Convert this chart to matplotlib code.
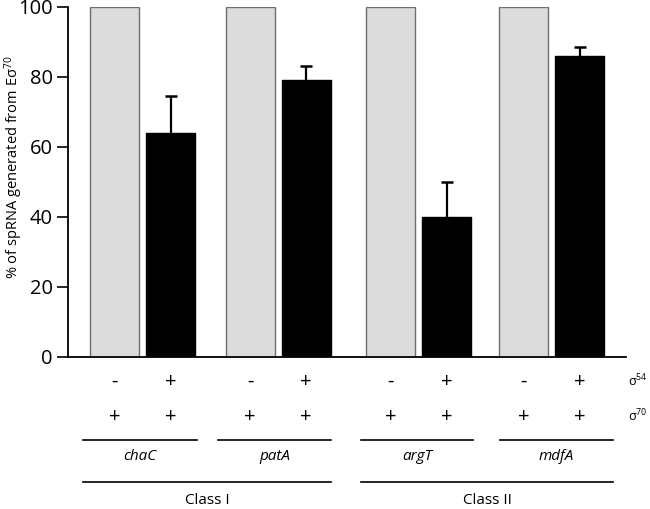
import matplotlib.pyplot as plt
import matplotlib.transforms as mtransforms
from matplotlib.lines import Line2D

plt.rcParams['font.family'] = ['Open Sans', 'DejaVu Sans']
plt.rcParams['mathtext.fontset'] = 'custom'
plt.rcParams['mathtext.rm'] = 'Open Sans'
plt.rcParams['mathtext.it'] = 'Open Sans:italic'

# DATA
genes = ["chaC", "patA", "argT", "mdfA"]
classes = ["Class I", "Class II"]
sigma70_only = [100, 100, 100, 100]
sigma54_added = [64, 79, 40, 86]
sigma54_err = [10.7, 4.2, 10.0, 2.7]
sig54_row = ["-", "+", "-", "+", "-", "+", "-", "+"]
sig70_row = ["+", "+", "+", "+", "+", "+", "+", "+"]

# layout (x in pixel-like units of the axes)
gray_x = [114.5, 250, 390.5, 523.5]
black_x = [x + 56 for x in gray_x]
bar_w = 49
gene_spans = [(83, 197), (218, 331), (361, 473), (500, 613)]
class_spans = [(83, 331), (361, 613)]

W, H = 650, 509
fig = plt.figure(figsize=(W / 100, H / 100), dpi=100)
ax = fig.add_axes([68 / W, 1 - 357 / H, (626 - 68) / W, 350 / H])

ax.bar(gray_x, sigma70_only, width=bar_w, color="#dcdcdc", edgecolor="#6e6e6e", linewidth=1.0)
ax.bar(black_x, sigma54_added, width=bar_w, color="black", edgecolor="black", linewidth=1.0)
# upper error bars only
tops = [v + e for v, e in zip(sigma54_added, sigma54_err)]
ax.vlines(black_x, sigma54_added, tops, color="black", lw=1.6)
ax.scatter(black_x, tops, marker="_", s=80, color="black", linewidths=1.8, zorder=3)

ax.set_xlim(68, 626)
ax.set_ylim(0, 100)
ax.set_yticks([0, 20, 40, 60, 80, 100])
ax.tick_params(axis="y", labelsize=14.5, length=8, width=1.2, pad=3)
ax.set_xticks([])
for s in ["top", "right"]:
    ax.spines[s].set_visible(False)
ax.spines["left"].set_linewidth(1.3)
ax.spines["bottom"].set_linewidth(1.3)

fy = lambda py: 1 - py / H
fig.text(14 / W, fy(167), "% of spRNA generated from Eσ$^{70}$", rotation=90,
         ha="center", va="center", fontsize=10.5)

# annotations below the axis
trans = mtransforms.blended_transform_factory(ax.transData, fig.transFigure)
xs = [v for pair in zip(gray_x, black_x) for v in pair]
for x, a, b in zip(xs, sig54_row, sig70_row):
    ax.text(x, fy(382), a, transform=trans, ha="center", va="center", fontsize=14.5)
    ax.text(x, fy(417), b, transform=trans, ha="center", va="center", fontsize=14.5)
fig.text(628 / W, fy(381), "σ$^{54}$", ha="left", va="center", fontsize=9)
fig.text(628 / W, fy(416), "σ$^{70}$", ha="left", va="center", fontsize=9)

for (x0, x1), g in zip(gene_spans, genes):
    ax.add_line(Line2D([x0, x1], [fy(440), fy(440)], transform=trans, color="black",
                       lw=1.2, clip_on=False))
    ax.text((x0 + x1) / 2, fy(457), g, transform=trans, ha="center", va="center",
            fontsize=11, style="italic")
for (x0, x1), c in zip(class_spans, classes):
    ax.add_line(Line2D([x0, x1], [fy(482), fy(482)], transform=trans, color="black",
                       lw=1.2, clip_on=False))
    ax.text((x0 + x1) / 2, fy(501), c, transform=trans, ha="center", va="center",
            fontsize=11)

fig.savefig("out.png", dpi=100)
